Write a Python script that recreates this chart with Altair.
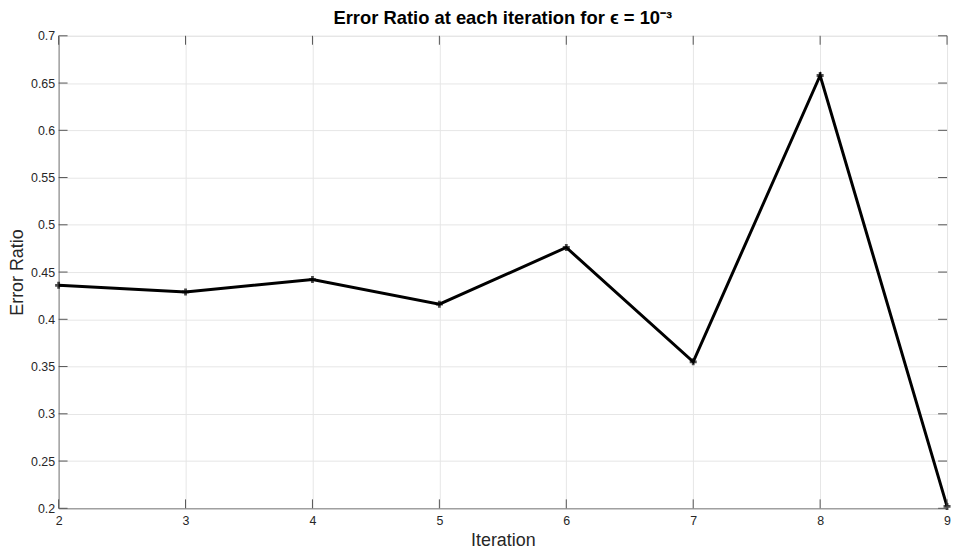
import altair as alt
import pandas as pd

iterations = [2, 3, 4, 5, 6, 7, 8, 9]
error_ratio = [0.436, 0.429, 0.442, 0.416, 0.476, 0.355, 0.658, 0.202]
x_ticks = [2, 3, 4, 5, 6, 7, 8, 9]
y_ticks = [0.2, 0.25, 0.3, 0.35, 0.4, 0.45, 0.5, 0.55, 0.6, 0.65, 0.7]

W, H = 895, 476
TL = 9
FONT = "Liberation Sans"
AX = "#262626"

df = pd.DataFrame({"Iteration": iterations, "Error Ratio": error_ratio})
dx = pd.DataFrame({"t": x_ticks})
dy = pd.DataFrame({"t": y_ticks})

xs = alt.Scale(domain=[2, 9], nice=False, zero=False)
ys = alt.Scale(domain=[0.2, 0.7], nice=False, zero=False)

xaxis = alt.Axis(values=x_ticks, format="d", grid=True, gridColor="#e6e6e6",
                 tickSize=0, labelPadding=6, labelFontSize=12.5, labelColor=AX,
                 labelFont=FONT, domainColor="#808080", title="Iteration",
                 titleFont=FONT, titleFontSize=18, titleFontWeight="normal",
                 titleColor=AX, titlePadding=5, labelFlush=False)
yaxis = alt.Axis(values=y_ticks, format=".2~f", grid=True, gridColor="#e6e6e6",
                 tickSize=0, labelPadding=4, labelFontSize=12.5, labelColor=AX,
                 labelFont=FONT, domainColor="#808080", title="Error Ratio",
                 titleFont=FONT, titleFontSize=18, titleFontWeight="normal",
                 titleColor=AX, titlePadding=4, labelFlush=False)

X = lambda f: alt.X(f, scale=xs, axis=xaxis, title="Iteration")
Y = lambda f: alt.Y(f, scale=ys, axis=yaxis, title="Error Ratio")

line = alt.Chart(df).mark_line(color="black", strokeWidth=3).encode(
    x=X("Iteration:Q"), y=Y("Error Ratio:Q"))
pts = alt.Chart(df).mark_point(shape="cross", filled=True, color="black", size=50).encode(
    x=X("Iteration:Q"), y=Y("Error Ratio:Q"))

tick_style = dict(color="#555555", strokeWidth=1)
xb = alt.Chart(dx).mark_rule(**tick_style).encode(
    x=X("t:Q"), y=alt.value(H), y2=alt.value(H - TL))
xt = alt.Chart(dx).mark_rule(**tick_style).encode(
    x=X("t:Q"), y=alt.value(0), y2=alt.value(TL))
yl = alt.Chart(dy).mark_rule(**tick_style).encode(
    y=Y("t:Q"), x=alt.value(0), x2=alt.value(TL))
yr = alt.Chart(dy).mark_rule(**tick_style).encode(
    y=Y("t:Q"), x=alt.value(W), x2=alt.value(W - TL))

chart = alt.layer(line, pts, xb, xt, yl, yr).properties(
    width=W, height=H,
    title=alt.TitleParams("Error Ratio at each iteration for \u03f5 = 10\u207b\u00b3",
                          font=FONT, fontSize=18.5, fontWeight="bold", color="black",
                          anchor="middle", offset=2),
    autosize=alt.AutoSizeParams(type="none"),
    padding={"left": 51, "top": 26, "right": 6, "bottom": 40},
).configure_view(stroke="#808080", strokeWidth=1).configure(background="white")

chart.save("out.html", embed_options={"renderer": "svg", "actions": False})
